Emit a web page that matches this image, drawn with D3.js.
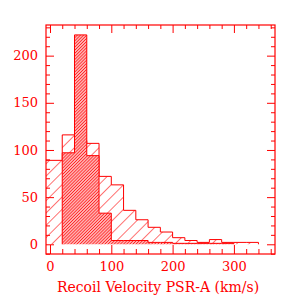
<!DOCTYPE html>
<html lang="en">
<head>
<meta charset="UTF-8">
<title>Recoil Velocity PSR-A</title>
<script src="https://cdn.jsdelivr.net/npm/d3@7/dist/d3.min.js"></script>
<style>
  body { margin: 0; background: #fff; }
  svg text { font-family: "DejaVu Serif", "Liberation Serif", serif; fill: red; }
</style>
</head>
<body>
<svg id="mainsvg" width="300" height="300"></svg>
<script>
    // histogram bin edges (km/s), 20 km/s wide
    const binEdges = d3.range(-20, 341, 20);
    // wide hatch histogram (all), one value per bin starting at -20
    const countsAll = [89, 89, 116, 110, 107, 72, 63, 36, 26, 18, 13, 7, 4, 2, 5, 2, 2, 2];
    // dense hatch histogram
    const countsSub = [0, 0, 97, 222, 94, 33, 4, 4, 4, 2, 2, 1, 1, 1, 1, 1, 0, 0];

    const xMajor = [0, 100, 200, 300];
    const yMajor = [0, 50, 100, 150, 200];
    const xLabel = 'Recoil Velocity PSR-A (km/s)';

    const svg = d3.select('#mainsvg');
    const col = 'red';
    const frame = {left: 46, right: 275, top: 25, bottom: 254};

    const x = d3.scaleLinear().domain([-6.5, 367]).range([frame.left, frame.right]);
    const y = d3.scaleLinear().domain([-10.3, 232.5]).range([frame.bottom, frame.top]);

    const defs = svg.append('defs');
    defs.append('clipPath').attr('id', 'clip')
        .append('rect')
        .attr('x', frame.left).attr('y', frame.top)
        .attr('width', frame.right - frame.left).attr('height', frame.bottom - frame.top);

    const sparse = defs.append('pattern')
        .attr('id', 'sparse').attr('patternUnits', 'userSpaceOnUse')
        .attr('width', 8.7).attr('height', 8.7)
        .attr('patternTransform', 'rotate(45)');
    sparse.append('line').attr('x1', 0).attr('y1', 0).attr('x2', 0).attr('y2', 8.7)
        .attr('stroke', col).attr('stroke-width', 1.1);

    const dense = defs.append('pattern')
        .attr('id', 'dense').attr('patternUnits', 'userSpaceOnUse')
        .attr('width', 2.2).attr('height', 2.2)
        .attr('patternTransform', 'rotate(45)');
    dense.append('rect').attr('width', 2.2).attr('height', 2.2).attr('fill', '#ffb0b0');
    dense.append('line').attr('x1', 0).attr('y1', 0).attr('x2', 0).attr('y2', 2.2)
        .attr('stroke', col).attr('stroke-width', 1.2);

    const area = d3.area()
        .x(d => x(d[0])).y0(y(0)).y1(d => y(d[1]))
        .curve(d3.curveStepAfter);
    const line = d3.line()
        .x(d => x(d[0])).y(d => y(d[1]))
        .curve(d3.curveStepAfter);

    const plot = svg.append('g').attr('clip-path', 'url(#clip)');

    const drawHist = (counts, fill) => {
        // only the filled bins
        const first = counts.findIndex(c => c > 0);
        let last = counts.length - 1;
        while (counts[last] === 0) last--;
        const pts = [[binEdges[first], 0]]
            .concat(counts.slice(first, last + 1).map((c, i) => [binEdges[first + i], c]))
            .concat([[binEdges[last + 1], counts[last]], [binEdges[last + 1], 0]]);
        plot.append('path').datum(pts.slice(1, -1))
            .attr('d', area).attr('fill', fill);
        plot.append('path').datum(pts)
            .attr('d', line).attr('fill', 'none')
            .attr('stroke', col).attr('stroke-width', 1);
    };

    drawHist(countsAll, 'url(#sparse)');
    drawHist(countsSub, 'url(#dense)');

    // axes with inward ticks on all four sides
    const xMinor = d3.range(0, 361, 20).filter(v => !xMajor.includes(v));
    const yMinor = d3.range(-10, 231, 10).filter(v => !yMajor.includes(v));

    const addAxis = (axis, tf, labels) => {
        const g = svg.append('g').attr('transform', tf).call(axis);
        g.select('.domain').remove();
        g.selectAll('line').attr('stroke', col).attr('stroke-width', 1);
        g.selectAll('text').attr('fill', col).attr('font-size', 13)
            .attr('font-family', '"DejaVu Serif", serif');
        if (!labels) g.selectAll('text').remove();
        return g;
    };

    addAxis(d3.axisBottom(x).tickValues(xMajor).tickSize(-9).tickPadding(7.5).tickFormat(d3.format('d')),
        `translate(0,${frame.bottom})`, true);
    addAxis(d3.axisBottom(x).tickValues(xMinor).tickSize(-5), `translate(0,${frame.bottom})`, false);
    addAxis(d3.axisTop(x).tickValues(xMajor).tickSize(-8), `translate(0,${frame.top})`, false);
    addAxis(d3.axisTop(x).tickValues(xMinor).tickSize(-4), `translate(0,${frame.top})`, false);

    addAxis(d3.axisLeft(y).tickValues(yMajor).tickSize(-8).tickPadding(8).tickFormat(d3.format('d')),
        `translate(${frame.left},0)`, true);
    addAxis(d3.axisLeft(y).tickValues(yMinor).tickSize(-4), `translate(${frame.left},0)`, false);
    addAxis(d3.axisRight(y).tickValues(yMajor).tickSize(-8), `translate(${frame.right},0)`, false);
    addAxis(d3.axisRight(y).tickValues(yMinor).tickSize(-4), `translate(${frame.right},0)`, false);

    // frame
    svg.append('rect')
        .attr('x', frame.left).attr('y', frame.top)
        .attr('width', frame.right - frame.left).attr('height', frame.bottom - frame.top)
        .attr('fill', 'none').attr('stroke', col).attr('stroke-width', 1.2);

    // axis title
    svg.append('text')
        .attr('x', 158).attr('y', 291.5)
        .attr('text-anchor', 'middle')
        .attr('font-size', 14)
        .text(xLabel);
</script>
</body>
</html>
